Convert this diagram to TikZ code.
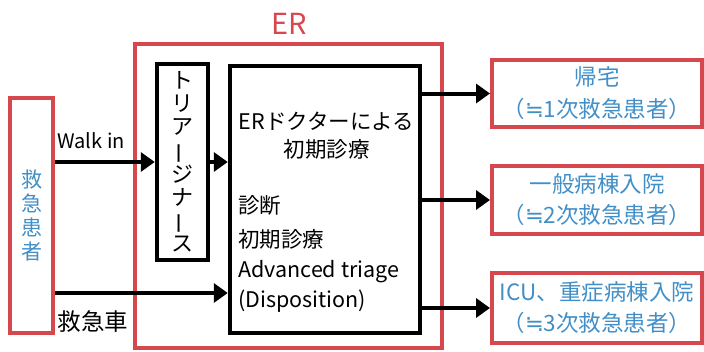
\documentclass[tikz,border=0pt]{standalone}
\usepackage{fontspec}
\setmainfont{Noto Sans CJK JP}
\newfontfamily\symbole{DejaVu Sans}
\usepackage{graphicx}
\usetikzlibrary{arrows.meta}

\definecolor{errouge}{RGB}{214,72,78}
\definecolor{erbleu}{RGB}{66,143,200}
\newcommand{\tatebou}{\rotatebox[origin=c]{90}{ー}}
\newcommand{\environ}{{\symbole ≒}}

\begin{document}
\begin{tikzpicture}[x=1pt,y=-1pt]
  % Styles
  \tikzset{
    rouge/.style={draw=errouge, line width=4pt, rectangle, inner sep=0pt},
    noir/.style={draw=black, line width=4.5pt, rectangle, inner sep=0pt},
    fleche/.style={-{Triangle[length=14pt,width=19pt]}, line width=4pt},
    bleu/.style={text=erbleu, align=center},
  }

  \useasboundingbox (0,0) rectangle (704,351);

  % Cadre ER
  \node[rouge, minimum width=307pt, minimum height=304pt] (er) at (288.5,196) {};
  \node[text=errouge, font=\fontsize{29}{32}\selectfont] (erlab) at (289,24) {ER};

  % Patient
  \node[rouge, minimum width=43pt, minimum height=235pt, bleu,
        font=\fontsize{21}{24}\selectfont] (patient) at (31.5,215.5)
        {救\\急\\患\\者};

  % Triage
  \node[noir, minimum width=51pt, minimum height=196pt, align=center,
        font=\fontsize{22}{23}\selectfont] (triage) at (182.5,162)
        {ト\\リ\\ア\\\tatebou\\ジ\\ナ\\\tatebou\\ス};

  % Cadre principal
  \node[noir, minimum width=190pt, minimum height=267pt] (main) at (325,199.5) {};
  \node[align=center, font=\fontsize{21.5}{28}\selectfont] (titre) at (326.5,136)
        {ERドクターによる\\初期診療};
  \node[align=left, anchor=north west, inner sep=0pt,
        font=\fontsize{21.5}{30}\selectfont] (liste) at (238,195)
        {診断\\[4pt]初期診療\\Advanced triage\\(Disposition)};

  % Sorties
  \node[rouge, minimum width=210pt, minimum height=67pt, bleu,
        font=\fontsize{22.5}{32}\selectfont] (kitaku) at (597,93.5)
        {帰宅\\（\environ 1次救急患者）};
  \node[rouge, minimum width=210pt, minimum height=68pt, bleu,
        font=\fontsize{22.5}{31}\selectfont] (ippan) at (597,200)
        {一般病棟入院\\（\environ 2次救急患者）};
  \node[rouge, minimum width=210pt, minimum height=70pt, bleu,
        font=\fontsize{22.5}{31}\selectfont] (icu) at (597,308)
        {ICU、重症病棟入院\\（\environ 3次救急患者）};

  % Fleches
  \coordinate (amb) at (0,293);
  \draw[fleche] (patient.east |- triage.west) -- (triage.west);
  \node[anchor=west, font=\fontsize{20}{23}\selectfont] (walk) at (54,141) {Walk in};
  \draw[fleche] (triage.east) -- (main.west |- triage.east);
  \draw[fleche] (patient.east |- amb) -- (main.west |- amb);
  \node[anchor=west, font=\fontsize{23.5}{26}\selectfont] (kyukyusha) at (54,322) {救急車};
  \draw[fleche] (main.east |- kitaku.west) -- (kitaku.west);
  \draw[fleche] (main.east |- ippan.west) -- (ippan.west);
  \draw[fleche] (main.east |- icu.west) -- (icu.west);

\end{tikzpicture}
\end{document}
